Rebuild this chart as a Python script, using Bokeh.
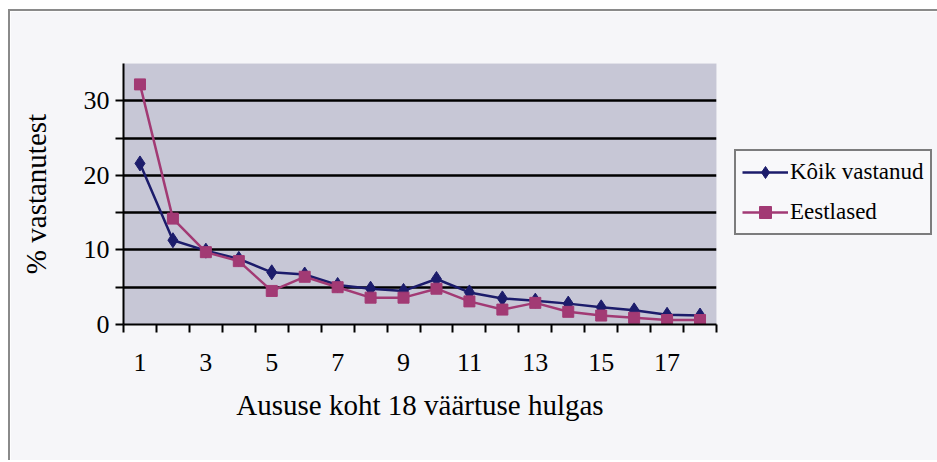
from bokeh.plotting import figure
from bokeh.models import FixedTicker, Legend, LegendItem, Range1d
from bokeh.embed import file_html
from bokeh.resources import INLINE

ranks = list(range(1, 19))
koik_vastanud = [21.6, 11.3, 9.9, 8.8, 7.0, 6.7, 5.3, 4.8, 4.5, 6.1, 4.3, 3.5, 3.2, 2.8, 2.3, 1.9, 1.3, 1.2]
eestlased = [32.2, 14.2, 9.7, 8.5, 4.5, 6.4, 5.0, 3.6, 3.6, 4.8, 3.1, 2.0, 2.9, 1.7, 1.2, 0.9, 0.6, 0.6]
x_tick_labels = [1, 3, 5, 7, 9, 11, 13, 15, 17]
y_tick_labels = [0, 10, 20, 30]

FONT = "Liberation Serif"
BLUE = "#1c1c6b"
MAG = "#a23a74"

p = figure(frame_width=593, frame_height=261, output_backend="svg", toolbar_location=None,
           x_range=Range1d(0.5, 18.5), y_range=Range1d(0, 35),
           min_border_left=113, min_border_top=52, min_border_right=219, min_border_bottom=136)
p.styles = {"margin-left": "8px", "margin-top": "9px",
            "border-top": "2px solid #8a8a8a", "border-left": "2px solid #8a8a8a"}
p.background_fill_color = "#c7c7d6"
p.border_fill_color = "#f6f6f9"
p.outline_line_color = None

# axes
p.xaxis.ticker = FixedTicker(ticks=x_tick_labels, minor_ticks=[r + 0.5 for r in [0] + ranks])
p.xaxis.major_tick_out = 0
p.xaxis.major_tick_in = 0
p.xaxis.minor_tick_out = 8
p.xaxis.minor_tick_in = 0
p.yaxis.ticker = FixedTicker(ticks=y_tick_labels, minor_ticks=[5, 15, 25])
p.yaxis.major_tick_out = 8
p.yaxis.major_tick_in = 0
p.yaxis.minor_tick_out = 8
p.yaxis.minor_tick_in = 0
for ax in (p.xaxis[0], p.yaxis[0]):
    ax.axis_line_color = "black"
    ax.axis_line_width = 2
    ax.major_tick_line_color = "black"
    ax.major_tick_line_width = 2
    ax.minor_tick_line_color = "black"
    ax.minor_tick_line_width = 2
    ax.major_label_text_font = FONT
    ax.major_label_text_font_size = "26px"
    ax.major_label_text_color = "black"
    ax.axis_label_text_font = FONT
    ax.axis_label_text_font_size = "29px"
    ax.axis_label_text_font_style = "normal"
    ax.axis_label_text_color = "black"
p.xaxis.major_label_standoff = 21
p.xaxis.axis_label_standoff = 15
p.yaxis.major_label_standoff = 6
p.yaxis.axis_label_standoff = 29
p.xaxis.axis_label = "Aususe koht 18 väärtuse hulgas"
p.yaxis.axis_label = "% vastanutest"

p.xgrid.grid_line_color = None
p.ygrid.ticker = FixedTicker(ticks=[5, 10, 15, 20, 25, 30])
p.ygrid.grid_line_color = "black"
p.ygrid.grid_line_width = 2.5

l1 = p.line(ranks, koik_vastanud, line_color=BLUE, line_width=2.5)
s1 = p.scatter(ranks, koik_vastanud, marker="diamond", size=15, fill_color=BLUE, line_color=BLUE)
l2 = p.line(ranks, eestlased, line_color=MAG, line_width=2.5)
s2 = p.scatter(ranks, eestlased, marker="square", size=11, fill_color=MAG, line_color=MAG)

legend = Legend(items=[LegendItem(label="Kôik vastanud", renderers=[l1, s1]),
                       LegendItem(label="Eestlased", renderers=[l2, s2])],
                location=(18, 89))
legend.label_text_font = FONT
legend.label_text_font_size = "23px"
legend.label_text_color = "black"
legend.glyph_width = 46
legend.glyph_height = 30
legend.label_standoff = 2
legend.spacing = 10
legend.padding = 6
legend.margin = 0
legend.border_line_color = "black"
legend.border_line_width = 2
legend.background_fill_color = "#f8f8fa"
legend.background_fill_alpha = 1
p.add_layout(legend, "right")

open("out.html", "w").write(file_html(p, INLINE))
